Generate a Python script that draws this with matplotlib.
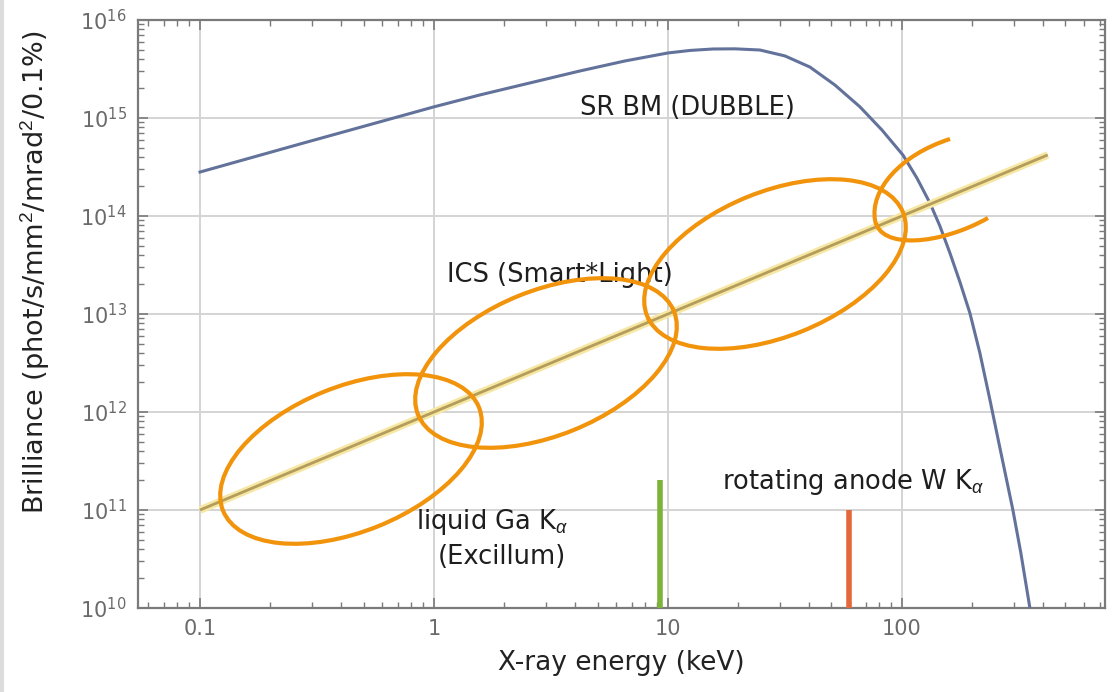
import numpy as np
import matplotlib
matplotlib.use("Agg")
import matplotlib.pyplot as plt
from matplotlib.patches import Ellipse, PathPatch
from matplotlib.path import Path
from matplotlib.lines import Line2D
from matplotlib.transforms import Affine2D
from matplotlib.ticker import (LogLocator, FixedLocator, FixedFormatter, NullFormatter,
                               LogFormatterSciNotation)

plt.rcParams["font.family"] = ["DejaVu Sans"]
plt.rcParams["mathtext.fontset"] = "custom"
plt.rcParams["mathtext.rm"] = "Liberation Sans"
plt.rcParams["mathtext.it"] = "Liberation Sans:italic"

# SR bending magnet (DUBBLE)
sr_energy = [0.1, 0.2675, 1.0, 1.573, 2.572, 4.207, 6.551, 10.0, 12.42, 15.57,
             19.33, 24.73, 31.62, 40.45, 51.72, 66.16, 82.13, 101.0, 115.9, 131.7,
             145.3, 160.4, 177.0, 195.3, 215.4, 237.8, 262.4, 298.1, 322.4, 352.4]
sr_brill = [2.81e14, 5.43e14, 1.30e15, 1.72e15, 2.28e15, 3.02e15, 3.82e15, 4.61e15,
            4.89e15, 5.06e15, 5.08e15, 4.94e15, 4.30e15, 3.31e15, 2.17e15, 1.30e15,
            7.55e14, 4.19e14, 2.44e14, 1.36e14, 7.91e13, 4.19e13, 2.12e13, 1.02e13,
            4.00e12, 1.33e12, 4.29e11, 1.0e11, 3.64e10, 1.0e10]

# ICS (Smart*Light)
ics_energy = [0.1, 420]
ics_brill = [1e11, 4.2e14]

# characteristic lines: liquid Ga K-alpha, W K-alpha
line_energy = [9.25, 59.3]
line_peak = [2e11, 1e11]
line_colors = ["#7db338", "#e3683a"]

x_ticks = [0.1, 1, 10, 100]
x_ticklabels = ["0.1", "1", "10", "100"]
y_ticks = [1e10, 1e11, 1e12, 1e13, 1e14, 1e15, 1e16]

W, H = 1115, 692
fig = plt.figure(figsize=(W / 100, H / 100), dpi=100)
ax = fig.add_axes([138 / W, 1 - 608 / H, (1105 - 138) / W, (608 - 20) / H])
# pixel coordinates measured from the top-left corner of the picture
px = Affine2D().scale(1 / W, -1 / H).translate(0, 1) + fig.transFigure

ax.set_xscale("log")
ax.set_yscale("log")
ax.set_xlim(0.0543, 738)
ax.set_ylim(1e10, 1e16)

ax.grid(True, which="major", color="#d4d4d4", linewidth=1.4)
ax.set_axisbelow(True)

ax.plot(sr_energy, sr_brill, color="#62729a", linewidth=2.2, zorder=3)
ax.plot(ics_energy, ics_brill, color="#f7e7a4", linewidth=5.5, zorder=3,
        solid_capstyle="butt")
ax.plot(ics_energy, ics_brill, color="#b49d5a", linewidth=2.0, zorder=3,
        solid_capstyle="butt")
ax.vlines(line_energy, 1e10, line_peak, colors=line_colors, linewidth=4, zorder=3)

ax.xaxis.set_major_locator(FixedLocator(x_ticks))
ax.xaxis.set_major_formatter(FixedFormatter(x_ticklabels))
ax.xaxis.set_minor_locator(LogLocator(base=10, subs=np.arange(2, 10), numticks=20))
ax.xaxis.set_minor_formatter(NullFormatter())
ax.yaxis.set_major_locator(FixedLocator(y_ticks))
ax.yaxis.set_major_formatter(LogFormatterSciNotation())
ax.yaxis.set_minor_locator(LogLocator(base=10, subs=np.arange(2, 10), numticks=20))
ax.yaxis.set_minor_formatter(NullFormatter())

ax.tick_params(which="both", direction="in", top=True, right=True, color="#7a7a7a",
               labelcolor="#6a6a6a", labelsize=15)
ax.tick_params(which="major", length=7, width=1.2, pad=8)
ax.tick_params(which="minor", length=4, width=1.0)
for s in ax.spines.values():
    s.set_color("#7a7a7a")
    s.set_linewidth(1.6)

ax.set_xlabel("X-ray energy (keV)", fontsize=19, color="#222222", labelpad=8)
ax.set_ylabel("Brilliance (phot/s/mm$^2$/mrad$^2$/0.1%)", fontsize=19.5,
              color="#222222")
ax.yaxis.set_label_coords(-0.089, 0.571)

txt = dict(fontsize=18.5, color="#1e1e1e", transform=px, va="center")
ax.text(580, 108, "SR BM (DUBBLE)", ha="left", **txt)
ax.text(447, 275, "ICS (Smart*Light)", ha="left", **txt)
ax.text(722, 482, "rotating anode W K$_\\alpha$", ha="left", **txt)
ax.text(492, 522, "liquid Ga K$_\\alpha$", ha="center", **txt)
ax.text(502, 557, "(Excillum)", ha="center", **txt)

# orange hand-drawn highlights
orange = "#f2930c"
for cx, cy in [(351, 459), (546, 363), (775, 264)]:
    e = Ellipse((cx, cy), 276, 145, angle=-22, transform=px, fill=False,
                edgecolor=orange, linewidth=3, zorder=5, clip_on=False)
    ax.add_patch(e)
c_path = Path([(950, 139), (900, 155), (870, 190), (875, 220),
               (880, 250), (940, 245), (988, 218)],
              [Path.MOVETO, Path.CURVE4, Path.CURVE4, Path.CURVE4,
               Path.CURVE4, Path.CURVE4, Path.CURVE4])
ax.add_patch(PathPatch(c_path, transform=px, fill=False, edgecolor=orange,
                       linewidth=3, zorder=5, clip_on=False))

# thin grey frame line at the left edge of the picture
fig.add_artist(Line2D([2, 2], [0, H], transform=px, color="#dcdcdc", linewidth=3))

fig.savefig("out.png", dpi=100)
